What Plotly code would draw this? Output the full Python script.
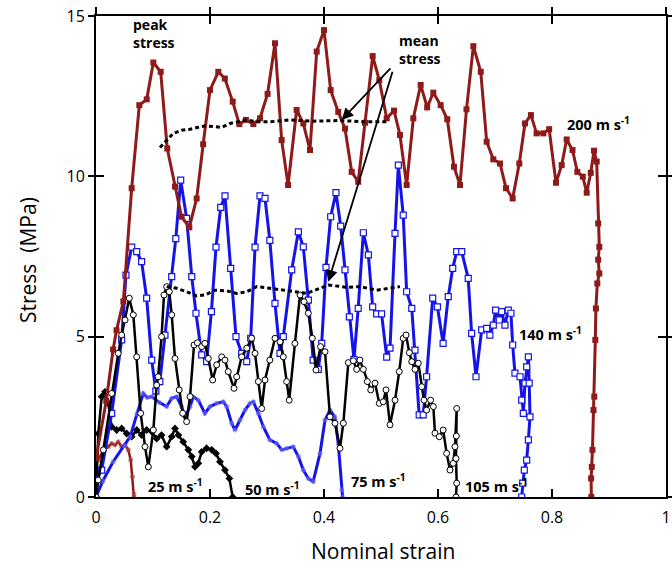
import plotly.graph_objects as go

# ---------------- data (strain, stress MPa) ----------------
s200_x = [0.0, 0.018, 0.030, 0.036, 0.048, 0.0626, 0.076, 0.089, 0.1006, 0.1135, 0.125, 0.1386, 0.150, 0.1637,
          0.1766, 0.188, 0.200, 0.2146, 0.226, 0.2398, 0.2514, 0.263, 0.276, 0.2877, 0.301, 0.314, 0.3257, 0.337,
          0.352, 0.3637, 0.3754, 0.3872, 0.400, 0.4117, 0.425, 0.4368, 0.4486, 0.460, 0.4719, 0.4854, 0.497, 0.510,
          0.5228, 0.5333, 0.545, 0.5567, 0.5696, 0.581, 0.5918, 0.6047, 0.6163, 0.628, 0.6386, 0.650, 0.662, 0.675,
          0.6854, 0.697, 0.7088, 0.7193, 0.731, 0.7426, 0.7526, 0.763, 0.773, 0.7848, 0.795, 0.807, 0.817, 0.8257,
          0.836, 0.8444, 0.854, 0.8609, 0.868, 0.8737, 0.8784, 0.881, 0.883, 0.881, 0.883, 0.8795, 0.877, 0.876,
          0.8742, 0.8728, 0.871, 0.8698, 0.8686, 0.869]
s200_y = [1.2, 3.0, 4.6, 5.2, 6.1, 9.63, 12.22, 12.4, 13.55, 13.26, 10.87, 9.68, 8.74, 8.41,
          9.31, 11.0, 12.69, 13.26, 13.05, 12.33, 11.63, 11.76, 11.63, 11.81, 12.57, 14.15, 11.13, 9.73,
          12.07, 11.65, 10.82, 13.89, 14.56, 12.69, 12.01, 11.49, 10.14, 9.83, 11.67, 13.75, 13.0, 11.81,
          12.05, 11.29, 9.73, 11.81, 12.85, 12.15, 12.61, 12.22, 11.78, 10.3, 9.73, 12.09, 14.06, 13.26,
          11.08, 10.53, 10.4, 9.63, 9.31, 10.4, 11.65, 11.91, 11.34, 11.34, 11.47, 9.8, 10.35, 11.15,
          10.82, 10.14, 9.99, 9.49, 10.11, 10.8, 10.46, 8.53, 7.8, 7.4, 6.97, 6.66, 5.88, 4.9,
          3.13, 2.71, 1.47, 0.94, 0.58, 0.0]

s140_x = [0.0, 0.010, 0.0275, 0.045, 0.0526, 0.0626, 0.0714, 0.080, 0.0889, 0.0977, 0.105, 0.112, 0.121, 0.1328,
          0.140, 0.1486, 0.159, 0.168, 0.1754, 0.1854, 0.194, 0.2025, 0.2105, 0.2188, 0.2263, 0.2363, 0.2456,
          0.2556, 0.2644, 0.2714, 0.279, 0.2877, 0.2965, 0.305, 0.314, 0.3228, 0.3286, 0.3433, 0.355, 0.3637,
          0.3725, 0.381, 0.390, 0.396, 0.4035, 0.4117, 0.421, 0.4293, 0.4368, 0.4445, 0.4526, 0.460, 0.469,
          0.4778, 0.4854, 0.4924, 0.501, 0.510, 0.5158, 0.5246, 0.5304, 0.539, 0.545, 0.554, 0.5596, 0.567,
          0.574, 0.580, 0.5907, 0.599, 0.609, 0.618, 0.6258, 0.6328, 0.6416, 0.653, 0.659, 0.6667, 0.6766,
          0.6854, 0.691, 0.697, 0.701, 0.7075, 0.7117, 0.7175, 0.7233, 0.728, 0.731, 0.735, 0.7439, 0.7468,
          0.7497, 0.7526, 0.7556, 0.7585, 0.760, 0.7614, 0.7585, 0.7556, 0.7514, 0.7486, 0.7468]
s140_y = [0.53, 0.84, 2.61, 4.9, 6.92, 7.79, 7.65, 7.34, 6.2, 4.27, 3.3, 3.6, 5.05, 6.87,
          8.06, 9.88, 8.69, 6.87, 5.73, 4.43, 4.22, 5.78, 7.79, 9.03, 9.39, 7.13, 5.0,
          4.48, 4.22, 4.95, 7.79, 9.39, 9.31, 8.0, 6.04, 4.48, 5.0, 7.08, 8.27, 7.8,
          6.14, 4.27, 3.98, 4.79, 7.16, 8.74, 9.49, 8.45, 7.08, 5.62, 4.29, 5.88, 8.24,
          7.55, 5.93, 5.71, 5.71, 4.36, 4.64, 8.22, 10.35, 8.79, 6.4, 5.88, 4.58, 2.56,
          2.56, 3.75, 6.2, 5.93, 4.79, 6.25, 7.13, 7.65, 7.65, 6.82, 5.1, 3.75, 5.21,
          5.26, 5.05, 5.36, 5.83, 5.52, 5.78, 5.36, 5.83, 5.73, 4.74, 3.86, 3.75, 3.02,
          2.61, 3.55, 4.06, 4.37, 3.55, 2.5, 1.78, 1.15, 0.84, 0.43, 0.0]

s105_x = [0.0, 0.004, 0.0128, 0.0275, 0.039, 0.045, 0.051, 0.0584, 0.0655, 0.0714, 0.0784, 0.086, 0.0918, 0.1006,
          0.1064, 0.109, 0.115, 0.1193, 0.124, 0.1286, 0.1328, 0.1386, 0.146, 0.152, 0.159, 0.165, 0.172, 0.1778,
          0.1854, 0.191, 0.197, 0.2047, 0.2117, 0.2205, 0.2263, 0.232, 0.2421, 0.2468, 0.2556, 0.2644, 0.273,
          0.279, 0.2848, 0.2907, 0.2965, 0.305, 0.314, 0.3228, 0.3286, 0.3345, 0.339, 0.349, 0.358, 0.365,
          0.3725, 0.3795, 0.386, 0.394, 0.4018, 0.4105, 0.4193, 0.428, 0.4339, 0.4427, 0.4514, 0.4573, 0.463,
          0.469, 0.476, 0.482, 0.4895, 0.497, 0.504, 0.5088, 0.5158, 0.5246, 0.532, 0.539, 0.5439, 0.5497,
          0.554, 0.5596, 0.5655, 0.5714, 0.5754, 0.580, 0.587, 0.5918, 0.5947, 0.6023, 0.609, 0.6152, 0.621,
          0.6268, 0.6298, 0.6328, 0.6322, 0.6316, 0.6328, 0.6316]
s105_y = [0.0, 0.53, 1.47, 3.23, 4.48, 5.05, 5.52, 6.2, 5.68, 4.37, 2.61, 1.57, 0.94, 2.09,
          3.49, 3.75, 5.0, 6.3, 6.56, 6.4, 5.68, 4.32, 3.34, 2.61, 2.35, 3.13, 4.74, 4.81,
          4.69, 4.79, 4.32, 3.65, 4.12, 4.37, 4.27, 3.91, 3.39, 3.75, 4.37, 4.64, 4.95,
          4.48, 3.6, 2.76, 3.65, 4.27, 4.95, 4.84, 4.37, 3.6, 3.02, 4.79, 6.3, 6.09,
          5.73, 4.95, 3.96, 4.69, 4.53, 2.5, 2.3, 1.52, 2.3, 4.19, 4.25, 3.98, 4.27,
          3.98, 3.6, 3.34, 3.55, 2.92, 2.97, 3.34, 2.25, 3.02, 3.91, 4.95, 5.05, 4.5,
          4.22, 3.98, 4.17, 3.44, 3.02, 2.71, 3.02, 2.82, 1.99, 1.88, 2.09, 1.36, 0.84,
          1.05, 1.57, 2.76, 1.9, 1.2, 0.43, 0.0]

s75_x = [0.0, 0.012, 0.030, 0.050, 0.060, 0.072, 0.083, 0.090, 0.0977, 0.111, 0.124, 0.1328, 0.1416, 0.150,
         0.156, 0.165, 0.1707, 0.1795, 0.191, 0.200, 0.2117, 0.2233, 0.2293, 0.238, 0.2439, 0.2526, 0.2614,
         0.270, 0.276, 0.2848, 0.2935, 0.305, 0.317, 0.3258, 0.3345, 0.346, 0.355, 0.3637, 0.3725, 0.381,
         0.393, 0.4018, 0.4105, 0.419, 0.425, 0.431, 0.4326]
s75_y = [0.0, 0.5, 1.1, 1.6, 1.88, 2.6, 3.23, 3.1, 3.13, 2.95, 2.82, 3.08, 3.13, 2.82,
         2.5, 2.82, 3.13, 3.02, 2.61, 2.82, 2.92, 2.97, 2.82, 2.3, 2.09, 2.4, 2.71,
         2.92, 2.97, 2.61, 2.19, 1.78, 1.67, 1.47, 1.52, 1.57, 1.26, 0.84, 0.58, 0.48,
         1.36, 2.4, 2.71, 2.5, 1.67, 0.22, 0.0]

s50_x = [0.0, 0.004, 0.010, 0.0158, 0.0216, 0.0275, 0.0363, 0.045, 0.0538, 0.0626, 0.0714, 0.080, 0.0889,
         0.0977, 0.1064, 0.115, 0.124, 0.1328, 0.1386, 0.1444, 0.153, 0.162, 0.168, 0.1737, 0.1795, 0.1854,
         0.194, 0.203, 0.2105, 0.2175, 0.2263, 0.2339, 0.2398]
s50_y = [0.0, 1.98, 3.13, 3.28, 2.92, 2.19, 2.09, 2.14, 1.98, 1.88, 2.09, 1.93, 2.09,
         2.04, 1.82, 1.93, 1.57, 1.88, 2.14, 1.93, 1.72, 1.47, 1.26, 0.94, 1.05, 1.41,
         1.52, 1.47, 1.36, 1.1, 0.84, 0.58, 0.0]

s25_x = [0.0, 0.004, 0.0128, 0.0216, 0.0275, 0.0333, 0.039, 0.045, 0.051, 0.0567, 0.061, 0.064, 0.0667, 0.0665]
s25_y = [1.2, 1.15, 1.47, 1.57, 1.67, 1.62, 1.72, 1.57, 1.62, 1.47, 1.15, 0.63, 0.1, 0.0]

mean_hi_x = [0.1123, 0.124, 0.1357, 0.150, 0.165, 0.1795, 0.191, 0.2058, 0.2205, 0.235, 0.2497, 0.2644,
             0.282, 0.305, 0.340, 0.38, 0.43, 0.47, 0.5128]
mean_hi_y = [10.9, 11.13, 11.34, 11.44, 11.47, 11.53, 11.57, 11.55, 11.53, 11.65, 11.7, 11.76,
             11.7, 11.7, 11.76, 11.72, 11.74, 11.7, 11.7]

mean_lo_x = [0.124, 0.1415, 0.159, 0.1766, 0.191, 0.2088, 0.2293, 0.2468, 0.2644, 0.282, 0.305, 0.3286,
             0.3696, 0.393, 0.4075, 0.44, 0.463, 0.4924, 0.5333]
mean_lo_y = [6.56, 6.51, 6.4, 6.27, 6.3, 6.45, 6.43, 6.35, 6.4, 6.56, 6.51, 6.45,
             6.35, 6.51, 6.61, 6.54, 6.56, 6.45, 6.56]

speed_labels = ["200 m s<sup>-1</sup>", "140 m s<sup>-1</sup>", "105 m s<sup>-1</sup>",
                "75 m s<sup>-1</sup>", "50 m s<sup>-1</sup>", "25 m s<sup>-1</sup>"]
speed_lab_x = [0.823, 0.738, 0.643, 0.444, 0.258, 0.0877]
speed_lab_y = [11.66, 5.11, 0.37, 0.53, 0.28, 0.37]

x_ticks = [0, 0.2, 0.4, 0.6, 0.8, 1]
x_tick_text = ["0", "0.2", "0.4", "0.6", "0.8", "1"]
y_ticks = [0, 5, 10, 15]

RED = "#8e1a1a"
BLUE = "#1414e8"
FONT = "Open Sans"

fig = go.Figure()

fig.add_trace(go.Scatter(x=s25_x, y=s25_y, mode="lines+markers",
                         line=dict(color=RED, width=2.5),
                         marker=dict(size=5, color="rgba(170,60,60,0.6)", symbol="circle")))
fig.add_trace(go.Scatter(x=s50_x, y=s50_y, mode="lines+markers",
                         line=dict(color="black", width=2.5),
                         marker=dict(size=6, color="black", symbol="diamond")))
fig.add_trace(go.Scatter(x=s75_x, y=s75_y, mode="lines+markers",
                         line=dict(color=BLUE, width=3),
                         marker=dict(size=5, color="rgba(110,110,255,0.6)", symbol="circle")))
fig.add_trace(go.Scatter(x=s140_x, y=s140_y, mode="lines+markers",
                         line=dict(color=BLUE, width=3),
                         marker=dict(size=6, color="white", symbol="square",
                                     line=dict(color=BLUE, width=1.2))))
fig.add_trace(go.Scatter(x=s105_x, y=s105_y, mode="lines+markers",
                         line=dict(color="black", width=2.5),
                         marker=dict(size=6, color="white", symbol="circle",
                                     line=dict(color="black", width=1))))
fig.add_trace(go.Scatter(x=s200_x, y=s200_y, mode="lines+markers",
                         line=dict(color=RED, width=3),
                         marker=dict(size=6, color=RED, symbol="square")))
fig.add_trace(go.Scatter(x=mean_hi_x, y=mean_hi_y, mode="lines",
                         line=dict(color="black", width=3, dash="4px,3px")))
fig.add_trace(go.Scatter(x=mean_lo_x, y=mean_lo_y, mode="lines",
                         line=dict(color="black", width=3, dash="4px,3px")))

annotations = []
for t, x, y in zip(speed_labels, speed_lab_x, speed_lab_y):
    annotations.append(dict(x=x, y=y, xref="x", yref="y", text="<b>" + t + "</b>",
                            showarrow=False, xanchor="left", yanchor="middle",
                            font=dict(family=FONT, size=14.5, color="black")))
annotations.append(dict(x=0.062, y=14.47, xref="x", yref="y", text="<b>peak<br>stress</b>",
                        showarrow=False, xanchor="left", yanchor="middle", align="left",
                        font=dict(family=FONT, size=14, color="black")))
annotations.append(dict(x=0.528, y=13.95, xref="x", yref="y", text="<b>mean<br>stress</b>",
                        showarrow=False, xanchor="left", yanchor="middle", align="left",
                        font=dict(family=FONT, size=14, color="black")))
for tip, tail in [((0.431, 11.76), (0.519, 13.41)), ((0.4075, 6.71), (0.521, 13.31))]:
    annotations.append(dict(x=tip[0], y=tip[1], ax=tail[0], ay=tail[1], xref="x", yref="y",
                            axref="x", ayref="y", text="", showarrow=True, arrowhead=2,
                            arrowsize=1.3, arrowwidth=1.8, arrowcolor="black"))
annotations.append(dict(x=0.5035, y=-0.112, xref="paper", yref="paper", text="Nominal strain",
                        showarrow=False, xanchor="center", yanchor="middle",
                        font=dict(family=FONT, size=21, color="black")))
annotations.append(dict(x=-0.119, y=0.493, xref="paper", yref="paper", text="Stress&nbsp;&nbsp;(MPa)",
                        showarrow=False, xanchor="center", yanchor="middle", textangle=-90,
                        font=dict(family=FONT, size=21, color="black")))

axis_common = dict(showgrid=False, zeroline=False, showline=True, linecolor="black", linewidth=2,
                   tickcolor="black", tickwidth=2, automargin=False)

fig.update_layout(
    width=672, height=577,
    margin=dict(l=96, r=6, t=16, b=80, autoexpand=False),
    paper_bgcolor="white", plot_bgcolor="white",
    showlegend=False,
    annotations=annotations,
    xaxis=dict(range=[0, 1], tickvals=x_ticks, ticktext=x_tick_text, ticks="inside", ticklen=8,
               mirror="ticks", ticklabelstandoff=5,
               tickfont=dict(family=FONT, size=16, color="black"), **axis_common),
    yaxis=dict(range=[0, 15], tickvals=y_ticks, ticks="inside", ticklen=8, mirror="ticks",
               ticklabelstandoff=6,
               tickfont=dict(family=FONT, size=16, color="black"), **axis_common),
    xaxis2=dict(range=[0, 1], tickvals=x_ticks, ticks="outside", ticklen=7, side="top",
                overlaying="x", showticklabels=False, **axis_common),
    yaxis2=dict(range=[0, 15], tickvals=y_ticks, ticks="outside", ticklen=7, side="right",
                overlaying="y", showticklabels=False, **axis_common),
    yaxis3=dict(range=[0, 15], tickvals=y_ticks, ticks="outside", ticklen=6, side="left",
                overlaying="y", showticklabels=False, **axis_common),
)
# invisible helper traces to activate the extra tick axes
fig.add_trace(go.Scatter(x=[None], y=[None], xaxis="x2", yaxis="y2", showlegend=False, hoverinfo="skip"))
fig.add_trace(go.Scatter(x=[None], y=[None], xaxis="x", yaxis="y3", showlegend=False, hoverinfo="skip"))

fig.write_html("out.html", config={"displayModeBar": False},
               post_script="document.body.style.margin='0';")
